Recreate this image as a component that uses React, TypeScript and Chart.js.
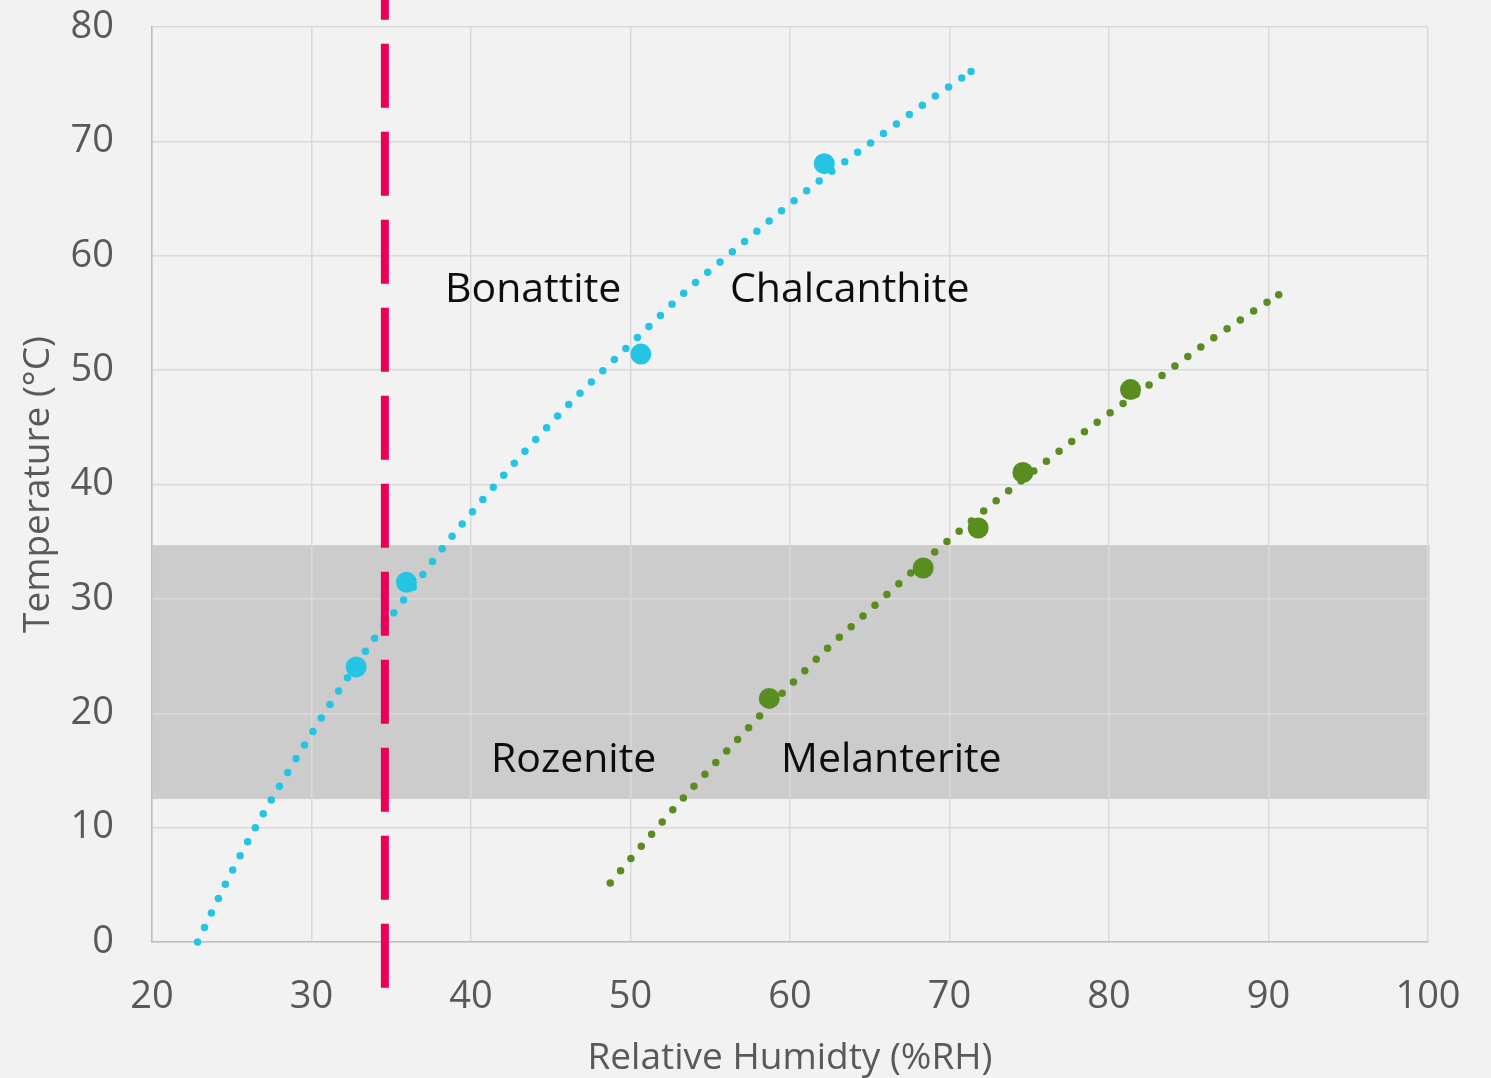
import React, { useEffect, useRef } from 'react';
import { Chart, registerables } from 'chart.js';

Chart.register(...registerables);

// Axis ranges / ticks
const xMin = 20;
const xMax = 100;
const xStep = 10;
const yMin = 0;
const yMax = 80;
const yStep = 10;

// Measured points (Relative humidity %RH, Temperature °C)
const cuRH = [32.8, 35.95, 50.65, 62.15];
const cuT = [24.05, 31.45, 51.4, 68.05];

const feRH = [58.7, 68.35, 71.8, 74.6, 81.35];
const feT = [21.3, 32.7, 36.2, 41.05, 48.3];

// Trend curves
const cuTrendRH = [22.86, 24.66, 26.56, 28.63, 30.76, 31.87, 34.13, 35.99, 38.43, 40.38, 42.36, 45.1, 47.94, 50.85, 53.79, 56.09, 59.18, 62.36, 65.58, 68.84, 71.35];
const cuTrendT = [0.0, 5.2, 10.2, 15.1, 19.9, 22.3, 26.9, 30.3, 34.8, 38.1, 41.3, 45.5, 49.5, 53.4, 57.3, 60.0, 63.6, 67.1, 70.4, 73.7, 76.1];

const feTrendRH = [48.73, 51.35, 54.0, 56.72, 58.1, 60.2, 62.34, 65.25, 68.97, 72.06, 75.95, 79.12, 83.2, 86.44, 90.64];
const feTrendT = [5.16, 9.47, 13.66, 17.72, 19.76, 22.7, 25.66, 29.34, 33.97, 37.6, 41.9, 45.3, 49.4, 52.7, 56.6];

// Vertical boundary
const boundaryRH = [34.6, 34.6];
const boundaryT = [-4, 86];

// Shaded temperature band
const bandT = [12.5, 34.7];
const bandRH = [20, 100.1];

// Region labels
const labelTexts = ['Bonattite', 'Chalcanthite', 'Rozenite', 'Melanterite'];
const labelRH = [38.37, 56.24, 41.25, 59.44];
const labelT = [56.0, 56.0, 14.86, 14.86];

const FONT = '"Open Sans", "Noto Sans", sans-serif';
const CYAN = '#25c4e4';
const GREEN = '#598d1f';
const RED = '#e8005a';
const AXIS_TEXT = '#595959';
const DOT = 7.5;

const pts = (xs: number[], ys: number[]) => xs.map((x, i) => ({ x, y: ys[i] }));
const endDot = (n: number) => Array.from({ length: n }, (_, i) => (i === n - 1 ? DOT / 2 : 0));

const overlayPlugin = {
  id: 'overlay',
  beforeDraw(chart: any) {
    const { ctx, scales } = chart;
    const x = scales.x;
    const y = scales.y;
    ctx.save();
    ctx.fillStyle = '#cccccc';
    const x0 = x.getPixelForValue(bandRH[0]);
    const x1 = x.getPixelForValue(bandRH[1]);
    const y0 = y.getPixelForValue(bandT[1]);
    const y1 = y.getPixelForValue(bandT[0]);
    ctx.fillRect(x0, y0, x1 - x0, y1 - y0);
    ctx.restore();
  },
  afterDatasetsDraw(chart: any) {
    const { ctx, scales } = chart;
    ctx.save();
    ctx.fillStyle = '#0d0d0d';
    ctx.font = `41px ${FONT}`;
    ctx.textAlign = 'left';
    ctx.textBaseline = 'alphabetic';
    labelTexts.forEach((t, i) => {
      ctx.fillText(t, scales.x.getPixelForValue(labelRH[i]), scales.y.getPixelForValue(labelT[i]));
    });
    ctx.restore();
  },
};

export default function App() {
  const ref = useRef<HTMLCanvasElement | null>(null);

  useEffect(() => {
    if (!ref.current) return;
    const chart = new Chart(ref.current, {
      type: 'scatter',
      data: {
        datasets: [
          {
            type: 'line',
            label: 'boundary',
            data: pts(boundaryRH, boundaryT),
            borderColor: RED,
            borderWidth: 8,
            borderDash: [64, 24],
            borderCapStyle: 'butt',
            pointRadius: 0,
            fill: false,
            clip: false,
            order: 0,
          } as any,
          {
            type: 'scatter',
            label: 'Cu',
            data: pts(cuRH, cuT),
            backgroundColor: CYAN,
            borderWidth: 0,
            pointRadius: 10.5,
            clip: false,
            order: 1,
          } as any,
          {
            type: 'scatter',
            label: 'Fe',
            data: pts(feRH, feT),
            backgroundColor: GREEN,
            borderWidth: 0,
            pointRadius: 10.5,
            clip: false,
            order: 1,
          } as any,
          {
            type: 'line',
            label: 'Cu trend',
            data: pts(cuTrendRH, cuTrendT),
            borderColor: CYAN,
            backgroundColor: CYAN,
            borderWidth: DOT,
            borderDash: [0, 16],
            borderCapStyle: 'round',
            cubicInterpolationMode: 'monotone',
            pointRadius: endDot(cuTrendRH.length),
            pointBorderWidth: 0,
            pointBackgroundColor: CYAN,
            fill: false,
            clip: false,
            order: 2,
          } as any,
          {
            type: 'line',
            label: 'Fe trend',
            data: pts(feTrendRH, feTrendT),
            borderColor: GREEN,
            backgroundColor: GREEN,
            borderWidth: DOT,
            borderDash: [0, 16],
            borderCapStyle: 'round',
            cubicInterpolationMode: 'monotone',
            pointRadius: endDot(feTrendRH.length),
            pointBorderWidth: 0,
            pointBackgroundColor: GREEN,
            fill: false,
            clip: false,
            order: 2,
          } as any,
        ],
      },
      options: {
        responsive: false,
        animation: false,
        devicePixelRatio: 1,
        layout: { padding: { top: 27, right: 63, bottom: 0, left: 0 } },
        plugins: {
          legend: { display: false },
          tooltip: { enabled: false },
        },
        scales: {
          x: {
            type: 'linear',
            min: xMin,
            max: xMax,
            ticks: {
              stepSize: xStep,
              padding: 32,
              color: AXIS_TEXT,
              font: { family: FONT, size: 38 },
            },
            grid: { color: '#d9d9d9', lineWidth: 1.5, drawTicks: false },
            border: { color: '#bfbfbf', width: 1.5 },
            title: {
              display: true,
              text: 'Relative Humidty (%RH)',
              color: AXIS_TEXT,
              font: { family: FONT, size: 37, lineHeight: 1 },
              padding: { top: 0, bottom: 1 },
            },
            afterFit(scale: any) {
              scale.height = 136;
              scale.paddingLeft = 0;
              scale.paddingRight = 0;
            },
          },
          y: {
            type: 'linear',
            min: yMin,
            max: yMax,
            ticks: {
              stepSize: yStep,
              padding: 38,
              color: AXIS_TEXT,
              font: { family: FONT, size: 38 },
            },
            grid: { color: '#d9d9d9', lineWidth: 1.5, drawTicks: false },
            border: { color: '#bfbfbf', width: 1.5 },
            title: {
              display: true,
              text: 'Temperature (°C)',
              color: AXIS_TEXT,
              font: { family: FONT, size: 37, lineHeight: 1 },
              padding: { top: 20, bottom: 0 },
            },
            afterFit(scale: any) {
              scale.width = 152;
              scale.paddingTop = 0;
              scale.paddingBottom = 0;
            },
          },
        },
      } as any,
      plugins: [overlayPlugin],
    });
    return () => chart.destroy();
  }, []);

  return (
    <div
      style={{
        position: 'fixed',
        left: 0,
        top: 0,
        width: 1491,
        height: 1078,
        background: '#f2f2f2',
        overflow: 'hidden',
      }}
    >
      <canvas ref={ref} width={1491} height={1078} style={{ display: 'block' }} />
    </div>
  );
}
